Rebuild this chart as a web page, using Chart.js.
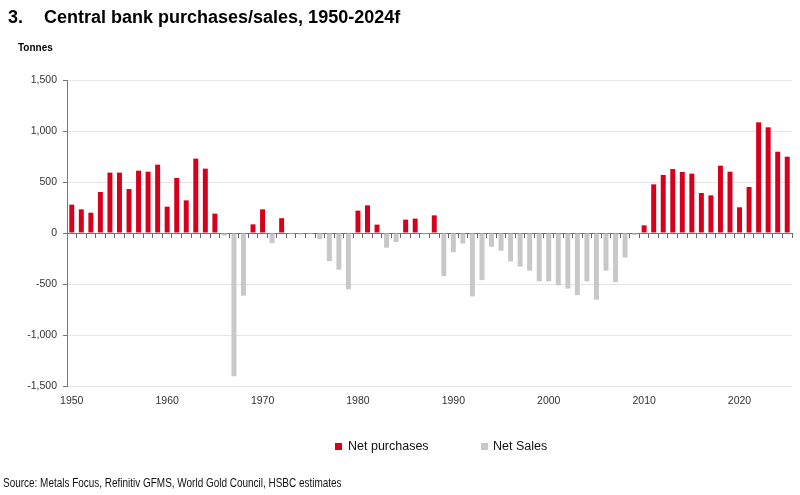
<!DOCTYPE html>
<html>
<head>
<meta charset="utf-8">
<script src="https://cdn.jsdelivr.net/npm/chart.js@4.4.1/dist/chart.umd.min.js"></script>
<style>
  body { margin: 0; background: #fff; }
  #wrap { position: relative; width: 800px; height: 495px; overflow: hidden; font-family: "Liberation Sans", Arial, sans-serif; }
  #c { position: absolute; left: 0; top: 0; }
  .txt { position: absolute; white-space: nowrap; color: #000; }
  #title { left: 8px; top: 7px; font-size: 18px; font-weight: bold; }
  #title .num { display: inline-block; width: 36px; }
  #unit { left: 18px; top: 42px; font-size: 10px; font-weight: bold; }
  #legend { left: 0; top: 437px; width: 800px; height: 18px; font-size: 12.5px; color: #111; }
  .lg { position: absolute; top: 0; line-height: 18px; }
  .sw { position: absolute; width: 7px; height: 7px; top: 6px; }
  #source { left: 3px; top: 476px; font-size: 12px; color: #111; transform: scaleX(0.83); transform-origin: 0 50%; }
</style>
</head>
<body>
<div id="wrap">
  <canvas id="c" width="800" height="495"></canvas>
  <div class="txt" id="title"><span class="num">3.</span>Central bank purchases/sales, 1950-2024f</div>
  <div class="txt" id="unit">Tonnes</div>
  <div class="txt" id="legend">
    <span class="sw" style="left:335px;background:#d7001c"></span><span class="lg" style="left:348px">Net purchases</span>
    <span class="sw" style="left:481px;background:#c8c8c8"></span><span class="lg" style="left:493px">Net Sales</span>
  </div>
  <div class="txt" id="source">Source: Metals Focus, Refinitiv GFMS, World Gold Council, HSBC estimates</div>
</div>
<script>
// Categories: years 1950 .. 2025
const years = [
  1950,1951,1952,1953,1954,1955,1956,1957,1958,1959,
  1960,1961,1962,1963,1964,1965,1966,1967,1968,1969,
  1970,1971,1972,1973,1974,1975,1976,1977,1978,1979,
  1980,1981,1982,1983,1984,1985,1986,1987,1988,1989,
  1990,1991,1992,1993,1994,1995,1996,1997,1998,1999,
  2000,2001,2002,2003,2004,2005,2006,2007,2008,2009,
  2010,2011,2012,2013,2014,2015,2016,2017,2018,2019,
  2020,2021,2022,2023,2024,2025
];
// Net central bank flows, tonnes
const netFlows = [
  278, 232, 199, 402, 592, 592, 431, 611, 601, 670,
  258, 539, 320, 729, 631, 190, -25, -1405, -614, 85,
  232, -100, 145, -12, -14, -12, -60, -275, -360, -552,
  219, 271, 82, -144, -88, 131, 141, -14, 173, -423,
  -189, -103, -622, -462, -135, -173, -279, -330, -369, -474,
  -474, -513, -545, -609, -474, -654, -369, -481, -240, -20,
  75, 477, 569, 627, 598, 582, 392, 369, 660, 601,
  252, 451, 1085, 1036, 797, 748
];
const yTicks = [-1500, -1000, -500, 0, 500, 1000, 1500];
const seriesNames = ["Net purchases", "Net Sales"];

const purchases = netFlows.map(v => v > 0 ? v : null);
const sales = netFlows.map(v => v < 0 ? v : null);

const RED = '#d7001c';
const GREY = '#c8c8c8';
const FONT = "'Liberation Sans', Arial, sans-serif";

new Chart(document.getElementById('c'), {
  type: 'bar',
  data: {
    labels: years,
    datasets: [
      { label: seriesNames[0], data: purchases, backgroundColor: RED, grouped: false, barPercentage: 0.52, categoryPercentage: 1.0, xAxisID: 'x' },
      { label: seriesNames[1], data: sales, backgroundColor: GREY, grouped: false, barPercentage: 0.52, categoryPercentage: 1.0, xAxisID: 'x' }
    ]
  },
  options: {
    responsive: false,
    animation: false,
    devicePixelRatio: 1,
    layout: { padding: { left: 0, right: 8, top: 80, bottom: 89 } },
    plugins: { legend: { display: false }, tooltip: { enabled: false }, title: { display: false } },
    scales: {
      x: {
        type: 'category',
        position: { y: 0 },
        offset: true,
        ticks: { display: false },
        grid: { display: true, drawOnChartArea: false, drawTicks: true, tickLength: 4, offset: true, tickColor: '#666', tickWidth: 1 },
        border: { display: true, color: '#777', width: 1 }
      },
      xb: {
        type: 'category',
        position: 'bottom',
        offset: true,
        grid: { display: false, drawTicks: false },
        border: { display: false },
        ticks: {
          autoSkip: false, maxRotation: 0, minRotation: 0, padding: 9,
          color: '#333', font: { family: FONT, size: 10.5 },
          callback: function(v, i) { return years[i] % 10 === 0 ? String(years[i]) : ''; }
        },
        afterFit: function(s) { s.height = 20; }
      },
      y: {
        type: 'linear',
        min: yTicks[0], max: yTicks[yTicks.length - 1],
        afterBuildTicks: function(s) { s.ticks = yTicks.map(v => ({ value: v })); },
        ticks: {
          padding: 6, color: '#333', font: { family: FONT, size: 10.5 },
          callback: function(v) { return v.toLocaleString('en-US'); }
        },
        grid: {
          color: function(ctx) { return ctx.tick && ctx.tick.value === 0 ? 'rgba(0,0,0,0)' : '#e4e4e4'; },
          tickColor: '#777', tickLength: 4, drawTicks: true
        },
        border: { display: true, color: '#777', width: 1 },
        afterFit: function(s) { s.width = 67; }
      }
    }
  }
});
</script>
</body>
</html>
